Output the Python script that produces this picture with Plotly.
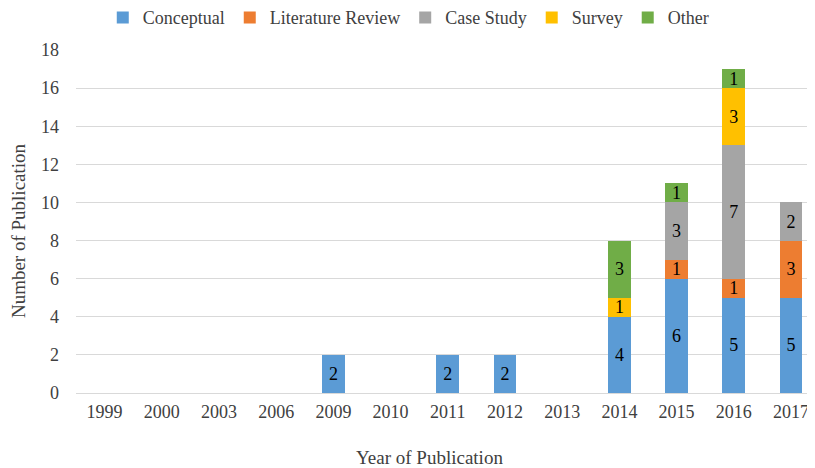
import plotly.graph_objects as go

years = ["1999", "2000", "2003", "2006", "2009", "2010", "2011", "2012", "2013", "2014", "2015", "2016", "2017"]
conceptual = [0, 0, 0, 0, 2, 0, 2, 2, 0, 4, 6, 5, 5]
literature_review = [0, 0, 0, 0, 0, 0, 0, 0, 0, 0, 1, 1, 3]
case_study = [0, 0, 0, 0, 0, 0, 0, 0, 0, 0, 3, 7, 2]
survey = [0, 0, 0, 0, 0, 0, 0, 0, 0, 1, 0, 3, 0]
other = [0, 0, 0, 0, 0, 0, 0, 0, 0, 3, 1, 1, 0]

series = [
    ("Conceptual", conceptual, "#5B9BD5"),
    ("Literature Review", literature_review, "#ED7D31"),
    ("Case Study", case_study, "#A5A5A5"),
    ("Survey", survey, "#FFC000"),
    ("Other", other, "#70AD47"),
]

x_title = "Year of Publication"
y_title = "Number of Publication"

FONT = "Liberation Serif, Times New Roman, serif"
TXT = "#404040"

fig = go.Figure()
for name, vals, color in series:
    fig.add_trace(go.Bar(
        x=years, y=vals, name=name,
        marker=dict(color=color, line=dict(width=0)),
        text=[str(v) if v else "" for v in vals],
        textposition="inside", insidetextanchor="middle", textangle=0,
        textfont=dict(family=FONT, size=18, color="black"),
        constraintext="none",
    ))

# page body has an 8px margin, so the figure is 8px smaller than the window
fig.update_layout(
    barmode="stack",
    bargap=0.6,
    width=807, height=460,
    margin=dict(l=68, r=0, t=42, b=75, autoexpand=False),
    paper_bgcolor="white", plot_bgcolor="white",
    font=dict(family=FONT, size=18, color=TXT),
    uniformtext=dict(mode=False),
    legend=dict(
        orientation="h", x=0.496, xanchor="center", xref="container",
        y=1.094, yanchor="middle", yref="paper",
        font=dict(family=FONT, size=18, color=TXT),
        traceorder="normal", itemwidth=30,
    ),
    xaxis=dict(
        type="category", range=[-0.5, 12.42], automargin=False,
        showgrid=False, showline=False, ticks="", ticklabelstandoff=6,
        tickfont=dict(family=FONT, size=18, color=TXT),
    ),
    yaxis=dict(
        range=[0, 18], dtick=2, showgrid=True, gridcolor="#D9D9D9", gridwidth=1,
        zeroline=True, zerolinecolor="#D9D9D9", zerolinewidth=1, automargin=False,
        showline=False, ticks="", ticklabelstandoff=16,
        tickfont=dict(family=FONT, size=18, color=TXT),
    ),
    annotations=[
        dict(text=x_title, xref="paper", yref="paper", x=0.479, y=-0.187,
             xanchor="center", yanchor="middle", showarrow=False,
             font=dict(family=FONT, size=19, color=TXT)),
        dict(text=y_title, xref="paper", yref="paper", x=-0.0785, y=0.475,
             xanchor="center", yanchor="middle", showarrow=False, textangle=-90,
             font=dict(family=FONT, size=19, color=TXT)),
    ],
)

fig.write_html("out.html")
